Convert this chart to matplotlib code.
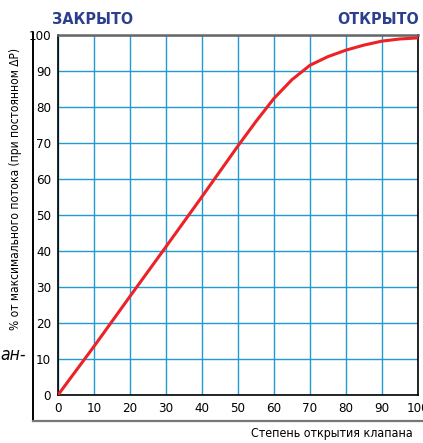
import numpy as np
import matplotlib.pyplot as plt
from matplotlib.lines import Line2D

########## data
opening = [0, 10, 20, 30, 40, 50, 55, 60, 65, 70, 75, 80, 85, 90, 95, 100]   # % valve opening
flow    = [0, 13.5, 27.4, 41.2, 55.1, 69.2, 76.0, 82.4, 87.6, 91.6, 94.0, 95.8, 97.2, 98.3, 98.9, 99.2]
ticks   = [0, 10, 20, 30, 40, 50, 60, 70, 80, 90, 100]

closed_label = "ЗАКРЫТО"
open_label   = "ОТКРЫТО"
xlabel = "Степень открытия клапана"
ylabel = "% от максимального потока (при постоянном ΔP)"

########## fonts
plt.rcParams['font.family'] = ['DejaVu Sans']
plt.rcParams['font.stretch'] = 'condensed'

grid_col = '#1f9bd1'
line_col = '#ec2227'
title_col = '#2b3f8e'

fig = plt.figure(figsize=(4.23, 4.43), dpi=100)
fig.set_facecolor('w')
ax = fig.add_axes([58/423, 1-395/443, 360/423, 360/443])

ax.plot(opening, flow, color=line_col, lw=2.2, solid_capstyle='round', zorder=3)

ax.set_xlim(0, 100)
ax.set_ylim(0, 100)
ax.set_xticks(ticks)
ax.set_yticks(ticks)
ax.grid(True, color=grid_col, lw=1.0)
ax.tick_params(length=0, labelsize=9.5, pad=5)
for s in ['left', 'bottom', 'right']:
    ax.spines[s].set_color('black')
    ax.spines[s].set_linewidth(1.2)
ax.spines['top'].set_color('#666666')
ax.spines['top'].set_linewidth(1.8)

########## header labels
fig.text(52/423, 1-20/443, closed_label, color=title_col, fontsize=11.5,
         fontweight='bold', ha='left', va='center')
fig.text(419/423, 1-20/443, open_label, color=title_col, fontsize=11.5,
         fontweight='bold', ha='right', va='center')

fig.text(16/423, 1-189/443, ylabel, rotation=90, fontsize=8.6,
         ha='center', va='center')
fig.text(413/423, 1-434/443, xlabel, fontsize=8.9, ha='right', va='center')
fig.text(0.5/423, 1-355/443, "ан-", fontsize=12.5, style='italic',
         ha='left', va='center')

########## outer frame
fig.add_artist(Line2D([33/423, 33/423], [1-33/443, 1-421/443], color='black', lw=1.4))
fig.add_artist(Line2D([33/423, 1.0], [1-421/443, 1-421/443], color='#777777', lw=1.6))

plt.savefig('out.png', dpi=100)
